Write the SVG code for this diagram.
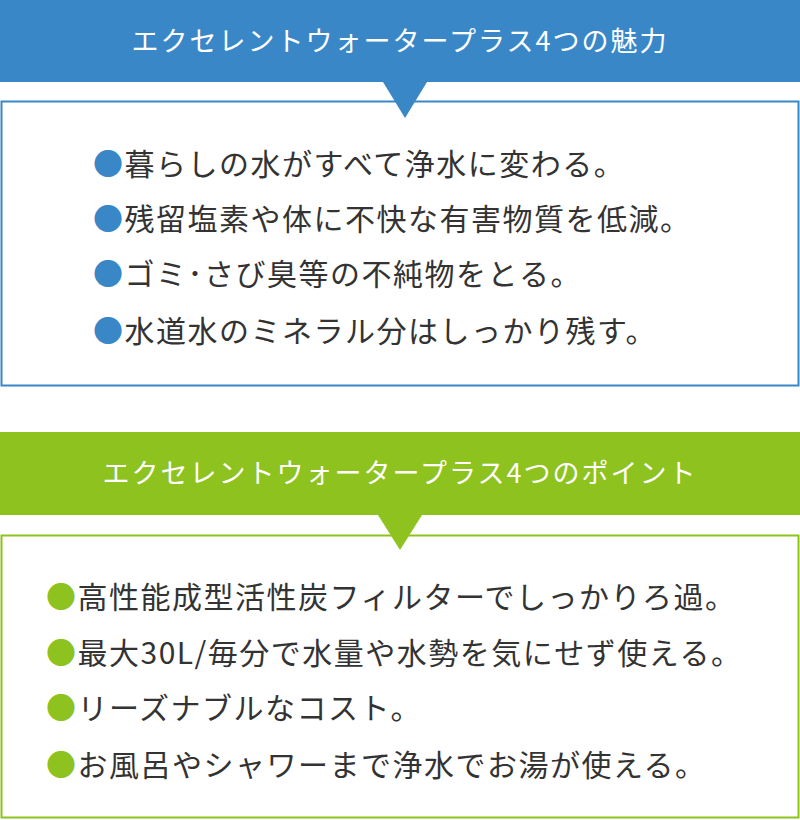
<svg xmlns="http://www.w3.org/2000/svg" width="800" height="820" viewBox="0 0 800 820">
<style>
.h{font-family:"Noto Sans CJK JP",sans-serif;font-size:27px;fill:#fff;text-anchor:middle;letter-spacing:2px}
.t{font-family:"Noto Sans CJK JP",sans-serif;font-size:30px;fill:#333;letter-spacing:1.5px}
.b{fill:#3a87c8}.g{fill:#8dc21f}
</style>
<rect width="800" height="820" fill="#fff"/>
<g id="section1">
<rect x="1.5" y="101.5" width="797" height="284" fill="#fff" stroke="#3a87c8" stroke-width="2"/>
<rect x="0" y="0" width="800" height="82" class="b"/>
<polygon points="383,82 427,82 405,118" class="b"/>
<text x="400" y="51" class="h">エクセレントウォータープラス4つの魅力</text>
<g class="t">
<text x="93" y="175"><tspan fill="#3a87c8">●</tspan>暮らしの水がすべて浄水に変わる。</text>
<text x="93" y="230"><tspan fill="#3a87c8">●</tspan>残留塩素や体に不快な有害物質を低減。</text>
<text x="93" y="285"><tspan fill="#3a87c8">●</tspan>ゴミ･さび臭等の不純物をとる。</text>
<text x="93" y="342"><tspan fill="#3a87c8">●</tspan>水道水のミネラル分はしっかり残す。</text>
</g>
</g>
<g id="section2">
<rect x="1.5" y="535.5" width="797" height="282" fill="#fff" stroke="#8dc21f" stroke-width="2"/>
<rect x="0" y="432" width="800" height="83" class="g"/>
<polygon points="378,515 422,515 400,550" class="g"/>
<text x="400" y="483" class="h">エクセレントウォータープラス4つのポイント</text>
<g class="t">
<text x="46" y="608"><tspan fill="#8dc21f">●</tspan>高性能成型活性炭フィルターでしっかりろ過。</text>
<text x="46" y="664"><tspan fill="#8dc21f">●</tspan>最大30L/毎分で水量や水勢を気にせず使える。</text>
<text x="46" y="719"><tspan fill="#8dc21f">●</tspan>リーズナブルなコスト。</text>
<text x="46" y="776"><tspan fill="#8dc21f">●</tspan>お風呂やシャワーまで浄水でお湯が使える。</text>
</g>
</g>
</svg>
